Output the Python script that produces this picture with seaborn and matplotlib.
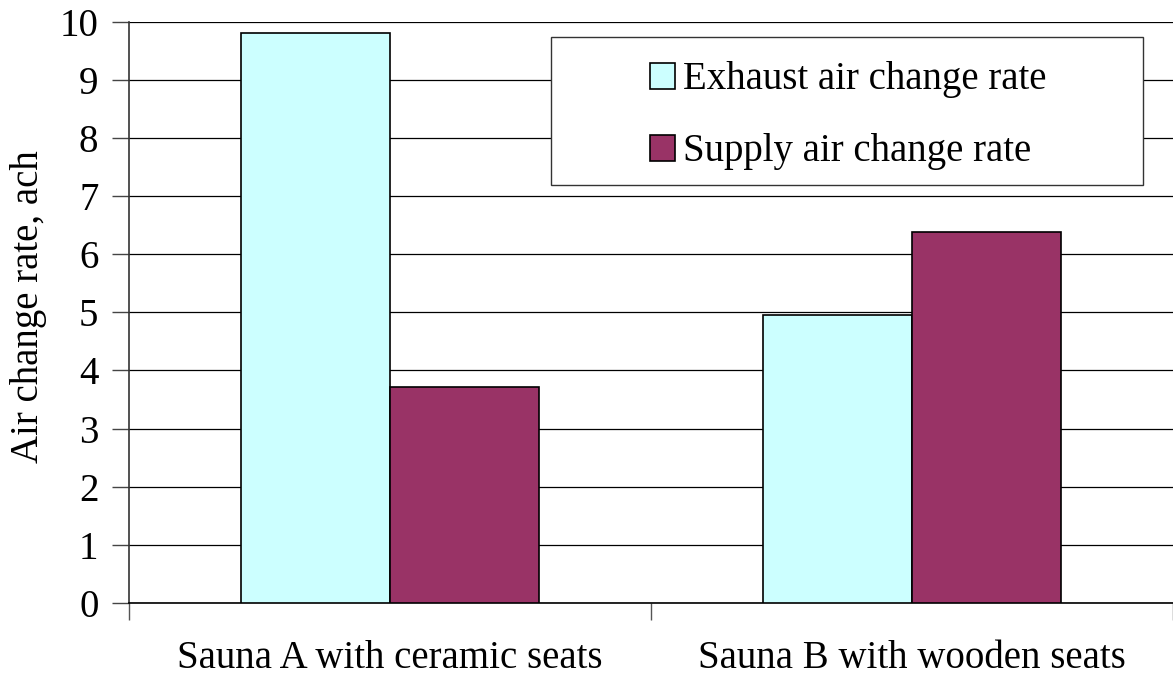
import matplotlib
matplotlib.use("Agg")
import matplotlib.pyplot as plt
from matplotlib.patches import Rectangle
import seaborn as sns
import pandas as pd

categories = ["Sauna A with ceramic seats", "Sauna B with wooden seats"]
series_names = ["Exhaust air change rate", "Supply air change rate"]
exhaust = [9.81, 4.96]
supply = [3.72, 6.39]
y_ticks = [0, 1, 2, 3, 4, 5, 6, 7, 8, 9, 10]

df = pd.DataFrame({
    "cat": categories * 2,
    "series": [series_names[0]] * 2 + [series_names[1]] * 2,
    "value": exhaust + supply,
})

sns.set_style("white")
plt.rcParams["font.family"] = ["Liberation Serif", "DejaVu Serif"]
plt.rcParams["text.color"] = "black"
plt.rcParams["xtick.color"] = "black"
plt.rcParams["ytick.color"] = "black"
plt.rcParams["axes.labelcolor"] = "black"

FS = 28

fig = plt.figure(figsize=(11.73, 6.79), dpi=100)
ax = fig.add_axes([0.110, 0.112, 0.890, 0.856])

sns.barplot(data=df, x="cat", y="value", hue="series", order=categories,
            hue_order=series_names, palette=["#CCFFFF", "#993366"],
            width=0.57, edgecolor="black", linewidth=1.2, saturation=1,
            errorbar=None, ax=ax, zorder=3)

ax.set_ylim(0, 10)
ax.set_xlim(-0.5, 1.5)
ax.set_yticks(y_ticks)
ax.set_yticklabels([str(t) for t in y_ticks], fontsize=FS)
ax.yaxis.grid(True, color="black", linewidth=0.9, zorder=0)
ax.set_axisbelow(True)
ax.tick_params(axis="y", length=12, width=1, color="#444444", direction="out", pad=10, left=True)

ax.set_xticks([0, 1])
ax.set_xticklabels(categories, fontsize=FS)
ax.set_xticks([-0.5, 0.5, 1.5], minor=True)
ax.tick_params(axis="x", which="major", length=0, pad=27)
ax.tick_params(axis="x", which="minor", length=12, width=1, color="#555555", direction="out", bottom=True)
ax.set_xlabel("")
ax.set_ylabel("Air change rate, ach", fontsize=FS)
ax.yaxis.set_label_coords(-0.079, 0.509)

for s in ["top", "right"]:
    ax.spines[s].set_visible(False)
ax.spines["left"].set_color("#333333")
ax.spines["bottom"].set_color("black")
ax.spines["left"].set_linewidth(1.2)
ax.spines["bottom"].set_linewidth(1.2)

# legend frame (square corners, content centred)
x0, x1, y0, y1 = 0.404, 0.971, 0.719, 0.974
ax.add_patch(Rectangle((x0, y0), x1 - x0, y1 - y0, transform=ax.transAxes,
                       facecolor="white", edgecolor="#333333", linewidth=1.0, zorder=5))
leg = ax.legend(loc="center", bbox_to_anchor=(0.689, 0.838),
                fontsize=FS, frameon=False, handlelength=0.64, handleheight=0.64,
                handletextpad=0.2, labelspacing=0.9, borderpad=0)
leg.set_zorder(6)

fig.savefig("out.png", dpi=100)
